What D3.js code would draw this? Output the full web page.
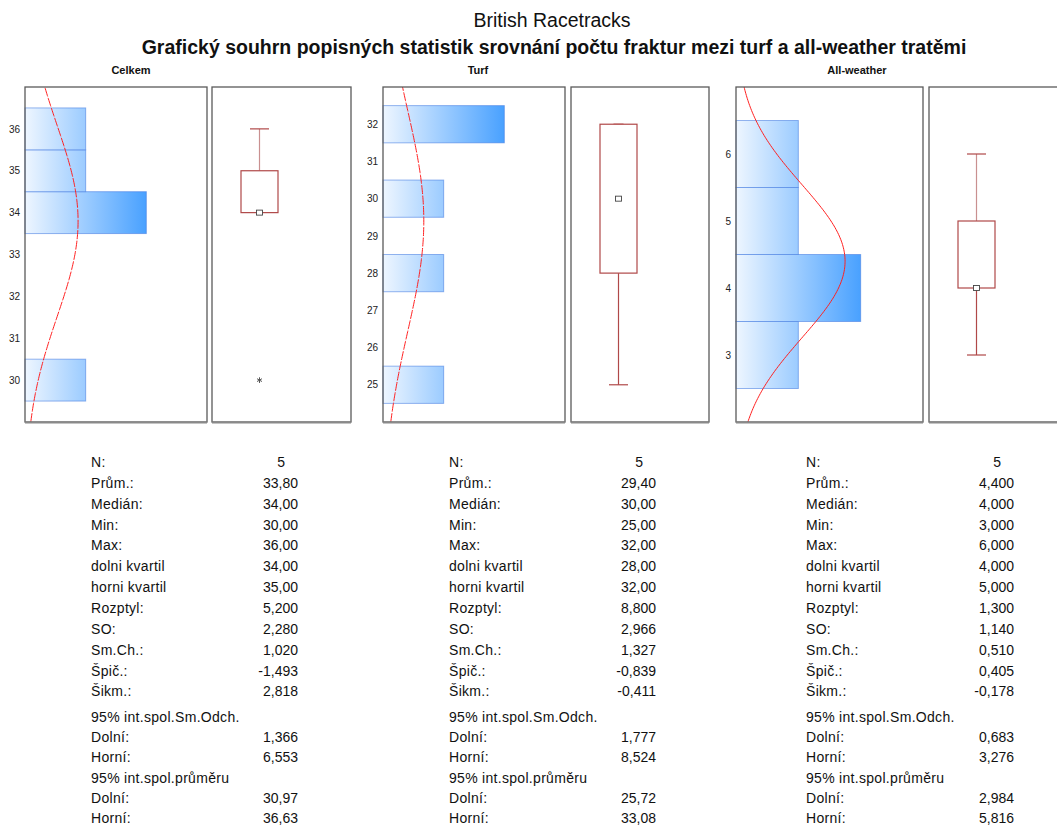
<!DOCTYPE html>
<html><head><meta charset="utf-8">
<script src="https://cdn.jsdelivr.net/npm/d3@7"></script>
<style>
body{margin:0;background:#fff;}
svg{display:block;font-family:"Liberation Sans",Arial,sans-serif;}
</style></head>
<body>
<svg id="c" width="1057" height="825"></svg>
<script>
// ---------- data ----------
const groupNames = ["Celkem", "Turf", "All-weather"];
// histogram bins (value) and counts per group
const celkemBins = [30, 34, 35, 36];
const celkemCounts = [1, 2, 1, 1];
const turfBins = [25, 28, 30, 32];
const turfCounts = [1, 1, 1, 2];
const allWeatherBins = [3, 4, 5, 6];
const allWeatherCounts = [1, 2, 1, 1];
// y-axis tick labels
const celkemTicks = [30, 31, 32, 33, 34, 35, 36];
const turfTicks = [25, 26, 27, 28, 29, 30, 31, 32];
const allWeatherTicks = [3, 4, 5, 6];
// y domains
const celkemDomain = [29, 37];
const turfDomain = [24, 33];
const allWeatherDomain = [2, 7];
// box plot: [whiskerLow, q1, median, q3, whiskerHigh]
const celkemBox = [34, 34, 34, 35, 36];
const turfBox = [25, 28, 30, 32, 32];
const allWeatherBox = [3, 4, 4, 5, 6];
const celkemOutliers = [30];
const turfOutliers = [];
const allWeatherOutliers = [];
// normal curve parameters: n, mean, sd
const celkemNormal = [5, 33.8, 2.280];
const turfNormal = [5, 29.4, 2.966];
const allWeatherNormal = [5, 4.4, 1.140];
// statistics table
const statLabels = ["N:", "Prům.:", "Medián:", "Min:", "Max:", "dolni kvartil", "horni kvartil",
  "Rozptyl:", "SO:", "Sm.Ch.:", "Špič.:", "Šikm.:", "95% int.spol.Sm.Odch.", "Dolní:", "Horní:",
  "95% int.spol.průměru", "Dolní:", "Horní:"];
const celkemStats = ["5", "33,80", "34,00", "30,00", "36,00", "34,00", "35,00", "5,200", "2,280", "1,020",
  "-1,493", "2,818", "", "1,366", "6,553", "", "30,97", "36,63"];
const turfStats = ["5", "29,40", "30,00", "25,00", "32,00", "28,00", "32,00", "8,800", "2,966", "1,327",
  "-0,839", "-0,411", "", "1,777", "8,524", "", "25,72", "33,08"];
const allWeatherStats = ["5", "4,400", "4,000", "3,000", "6,000", "4,000", "5,000", "1,300", "1,140", "0,510",
  "0,405", "-0,178", "", "0,683", "3,276", "", "2,984", "5,816"];
const titleText = "British Racetracks";
const subtitleText = "Grafický souhrn popisných statistik srovnání počtu fraktur mezi turf a all-weather tratěmi";

// ---------- layout ----------
const svg = d3.select("#c");
const yTop = 87, yBottom = 422;
const panels = [
  {name: groupNames[0], bins: celkemBins, counts: celkemCounts, ticks: celkemTicks, dom: celkemDomain,
   box: celkemBox, out: celkemOutliers, norm: celkemNormal, stats: celkemStats,
   hx: [25, 207], bx: [212, 351], titleX: 131, labX: 91, valX: 298, nX: 285},
  {name: groupNames[1], bins: turfBins, counts: turfCounts, ticks: turfTicks, dom: turfDomain,
   box: turfBox, out: turfOutliers, norm: turfNormal, stats: turfStats,
   hx: [383, 565], bx: [571, 709], titleX: 478, labX: 449, valX: 656, nX: 643},
  {name: groupNames[2], bins: allWeatherBins, counts: allWeatherCounts, ticks: allWeatherTicks, dom: allWeatherDomain,
   box: allWeatherBox, out: allWeatherOutliers, norm: allWeatherNormal, stats: allWeatherStats,
   hx: [736, 923], bx: [929, 1067], titleX: 857, labX: 806, valX: 1014, nX: 1001}
];

svg.append("text").attr("x", 552).attr("y", 27).attr("text-anchor", "middle")
  .attr("font-size", 19.5).attr("fill", "#111").text(titleText);
svg.append("text").attr("x", 554).attr("y", 54).attr("text-anchor", "middle")
  .attr("font-size", 19.5).attr("font-weight", "bold").attr("fill", "#111").text(subtitleText);

const defs = svg.append("defs");

panels.forEach((p, i) => {
  const y = d3.scaleLinear().domain(p.dom).range([yBottom, yTop]);
  const x = d3.scaleLinear().domain([0, 3]).range(p.hx);
  const g = svg.append("g");

  // panel title
  g.append("text").attr("x", p.titleX).attr("y", 74).attr("text-anchor", "middle")
    .attr("font-size", 11).attr("font-weight", "bold").attr("fill", "#111").text(p.name);

  // gradient
  const gid = "grad" + i;
  const grad = defs.append("linearGradient").attr("id", gid)
    .attr("gradientUnits", "userSpaceOnUse")
    .attr("x1", x(0)).attr("x2", x(2)).attr("y1", 0).attr("y2", 0);
  grad.append("stop").attr("offset", 0).attr("stop-color", "#eef6ff");
  grad.append("stop").attr("offset", 1).attr("stop-color", "#49a1ff");

  // clip
  const cid = "clip" + i;
  defs.append("clipPath").attr("id", cid).append("rect")
    .attr("x", p.hx[0]).attr("y", yTop).attr("width", p.hx[1] - p.hx[0]).attr("height", yBottom - yTop);

  // bars
  g.append("g").selectAll("rect").data(p.bins).join("rect")
    .attr("x", x(0))
    .attr("y", d => y(d + 0.5))
    .attr("width", (d, j) => x(p.counts[j]) - x(0))
    .attr("height", d => y(d - 0.5) - y(d + 0.5))
    .attr("fill", `url(#${gid})`)
    .attr("stroke", "#3f78e0").attr("stroke-opacity", 0.55).attr("stroke-width", 1);

  // normal curve
  const [n, mu, sd] = p.norm;
  const pdf = v => n * Math.exp(-0.5 * ((v - mu) / sd) ** 2) / (sd * Math.sqrt(2 * Math.PI));
  const pts = d3.range(0, 201).map(k => p.dom[0] + (p.dom[1] - p.dom[0]) * k / 200);
  g.append("path").datum(pts)
    .attr("clip-path", `url(#${cid})`)
    .attr("d", d3.line().x(v => x(pdf(v))).y(v => y(v)))
    .attr("fill", "none").attr("stroke", "#ff1f1f").attr("stroke-width", 1)
    .attr("stroke-dasharray", i === 2 ? null : "9,1.5");

  // axis
  const ax = g.append("g").attr("transform", `translate(${p.hx[0]},0)`)
    .call(d3.axisLeft(y).tickValues(p.ticks).tickSize(0).tickPadding(5).tickFormat(d3.format("d")));
  ax.select(".domain").remove();
  ax.selectAll("text").attr("font-size", 10).attr("fill", "#222")
    .attr("font-family", "'Liberation Sans', Arial, sans-serif");

  // frames
  [p.hx, p.bx].forEach(r => {
    g.append("rect").attr("x", r[0]).attr("y", yTop).attr("width", r[1] - r[0]).attr("height", yBottom - yTop)
      .attr("fill", "none").attr("stroke", "#5a5a5a").attr("stroke-width", 1.3);
    g.append("line").attr("x1", r[0]).attr("x2", r[1]).attr("y1", yBottom + 0.5).attr("y2", yBottom + 0.5)
      .attr("stroke", "#8a8a8a").attr("stroke-width", 2);
  });

  // box plot
  const [wl, q1, med, q3, wh] = p.box;
  const bc = p.bx[0] + 47.5, bw = 37, cap = 19;
  const col = "#b04848";
  const bg = g.append("g").attr("stroke", col).attr("fill", "none").attr("stroke-width", 1.2);
  if (wh > q3) {
    bg.append("line").attr("x1", bc).attr("x2", bc).attr("y1", y(q3)).attr("y2", y(wh)).attr("stroke", "#c99090");
    bg.append("line").attr("x1", bc - cap / 2).attr("x2", bc + cap / 2).attr("y1", y(wh)).attr("y2", y(wh));
  } else {
    bg.append("line").attr("x1", bc - 5).attr("x2", bc + 5).attr("y1", y(wh)).attr("y2", y(wh));
  }
  if (wl < q1) {
    bg.append("line").attr("x1", bc).attr("x2", bc).attr("y1", y(q1)).attr("y2", y(wl));
    bg.append("line").attr("x1", bc - cap / 2).attr("x2", bc + cap / 2).attr("y1", y(wl)).attr("y2", y(wl));
  }
  bg.append("rect").attr("x", bc - bw / 2).attr("y", y(q3)).attr("width", bw).attr("height", y(q1) - y(q3))
    .attr("fill", "#fff");
  g.append("rect").attr("x", bc - 3).attr("y", y(med) - 2.5).attr("width", 6).attr("height", 5)
    .attr("fill", "#fff").attr("stroke", "#444").attr("stroke-width", 0.9);
  g.append("g").selectAll("path").data(p.out).join("path")
    .attr("transform", d => `translate(${bc},${y(d)})`)
    .attr("d", d3.symbol(d3.symbolAsterisk || d3.symbolCross, 22))
    .attr("fill", "none").attr("stroke", "#555").attr("stroke-width", 1);

  // stats table
  const rowY = k => {
    if (k <= 11) return 467 + k * 20.85;
    return 722 + (k - 12) * 20.2;
  };
  const tg = g.append("g").attr("font-size", 14).attr("letter-spacing", 0.3).attr("fill", "#111");
  statLabels.forEach((lab, k) => {
    tg.append("text").attr("x", p.labX).attr("y", rowY(k)).text(lab);
  });
  p.stats.forEach((v, k) => {
    if (!v) return;
    tg.append("text").attr("x", k === 0 ? p.nX : p.valX).attr("y", rowY(k))
      .attr("letter-spacing", 0)
      .attr("text-anchor", "end").text(v);
  });
});
</script>
</body></html>
